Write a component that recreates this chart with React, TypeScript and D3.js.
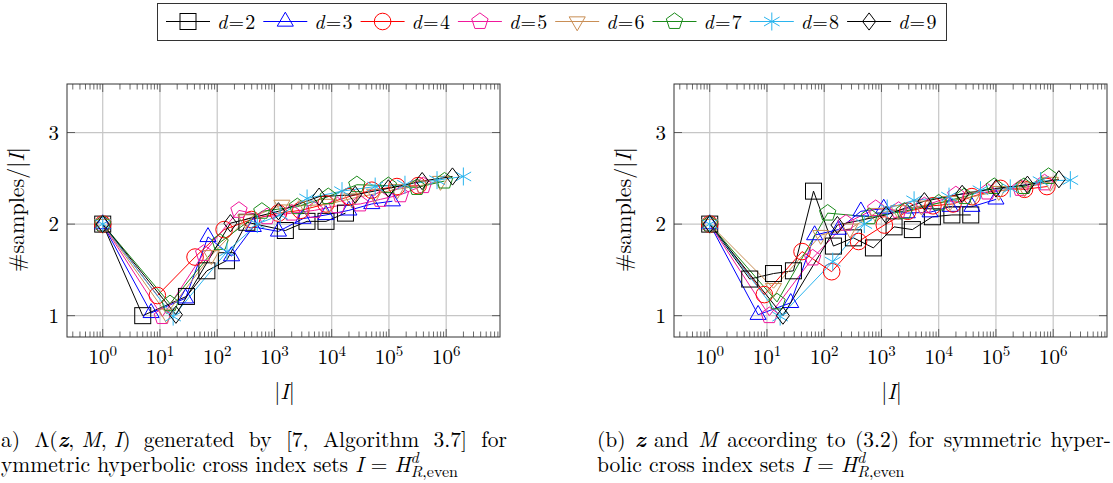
import React from "react";
import * as d3 from "d3";

// ---------- data ----------
const dims = [2, 3, 4, 5, 6, 7, 8, 9];
const xTickExps = [0, 1, 2, 3, 4, 5, 6];
const yTicks = [1, 2, 3];

// Panel (a)
const a2I = [1, 5, 29, 66, 145, 330, 1550, 3700, 7950, 17400];
const a2Y = [2.0, 1.0, 1.21, 1.49, 1.6, 2.02, 1.93, 2.03, 2.03, 2.12];
const a3I = [1, 7, 28, 69, 178, 427, 1175, 3160, 7940, 19950, 50100, 114800];
const a3Y = [2.0, 1.03, 1.19, 1.86, 1.65, 1.97, 1.92, 2.06, 2.1, 2.15, 2.22, 2.25];
const a4I = [1, 9, 41, 132, 398, 1175, 2880, 7940, 19950, 50100, 138000, 323600];
const a4Y = [2.0, 1.22, 1.64, 1.94, 2.05, 2.12, 2.15, 2.22, 2.3, 2.37, 2.41, 2.42];
const a5I = [1, 11, 58, 240, 741, 1995, 5010, 12600, 31600, 70800, 158500, 398100];
const a5Y = [2.0, 0.99, 1.68, 2.15, 2.08, 2.12, 2.15, 2.2, 2.22, 2.27, 2.32, 2.42];
const a6I = [1, 13, 79, 316, 1350, 3550, 8910, 22400, 56200, 141300, 354800, 794300];
const a6Y = [2.0, 1.02, 1.66, 2.05, 2.21, 2.2, 2.22, 2.28, 2.33, 2.38, 2.42, 2.47];
const a7I = [1, 15, 112, 603, 2510, 8710, 27500, 97700, 309000, 933300];
const a7Y = [2.0, 1.13, 1.8, 2.14, 2.19, 2.3, 2.43, 2.42, 2.4, 2.47];
const a8I = [1, 17, 148, 501, 1260, 3715, 15140, 57500, 190500, 691800, 1995000];
const a8Y = [2.0, 0.99, 1.7, 2.0, 2.1, 2.28, 2.36, 2.41, 2.43, 2.48, 2.52];
const a9I = [1, 19, 170, 1175, 6030, 25700, 97700, 380200, 1288000];
const a9Y = [2.0, 1.01, 2.01, 2.14, 2.3, 2.32, 2.39, 2.47, 2.52];

// Panel (b)
const b2I = [1, 5, 13, 29, 65, 145, 324, 724, 1660, 3470, 7760, 16980, 36300];
const b2Y = [2.0, 1.4, 1.46, 1.49, 2.36, 1.76, 1.85, 1.74, 1.97, 1.94, 2.08, 2.1, 2.1];
const b3I = [1, 7, 26, 68, 178, 437, 1096, 2820, 7080, 15850, 38000, 100000];
const b3Y = [2.0, 1.01, 1.14, 1.88, 1.94, 2.14, 2.17, 2.12, 2.13, 2.19, 2.19, 2.27];
const b4I = [1, 9, 41, 135, 398, 1122, 2884, 7940, 17780, 38000, 120200, 316200, 776200];
const b4Y = [2.0, 1.23, 1.7, 1.48, 1.81, 1.99, 2.14, 2.2, 2.22, 2.3, 2.39, 2.38, 2.41];
const b5I = [1, 11, 63, 240, 794, 1995, 5620, 19950, 70800, 269200, 707900];
const b5Y = [2.0, 1.0, 1.63, 2.01, 2.17, 2.15, 2.2, 2.32, 2.35, 2.39, 2.45];
const b6I = [1, 13, 87, 282, 794, 1995, 5010, 15850, 39800, 112200, 316200, 891300];
const b6Y = [2.0, 1.3, 1.88, 1.95, 2.12, 2.15, 2.2, 2.25, 2.3, 2.36, 2.4, 2.46];
const b7I = [1, 15, 115, 617, 2510, 10000, 28200, 93300, 309000, 831800];
const b7Y = [2.0, 1.15, 2.12, 2.08, 2.14, 2.23, 2.3, 2.41, 2.41, 2.52];
const b8I = [1, 17, 141, 501, 1260, 3715, 15140, 53700, 177800, 602600, 1995000];
const b8Y = [2.0, 0.99, 1.59, 2.0, 2.17, 2.26, 2.3, 2.37, 2.39, 2.47, 2.48];
const b9I = [1, 19, 170, 1202, 5620, 25700, 100000, 354800, 1259000];
const b9Y = [2.0, 1.0, 1.99, 2.1, 2.25, 2.33, 2.39, 2.43, 2.49];

const panelA = [
  [a2I, a2Y], [a3I, a3Y], [a4I, a4Y], [a5I, a5Y],
  [a6I, a6Y], [a7I, a7Y], [a8I, a8Y], [a9I, a9Y],
];
const panelB = [
  [b2I, b2Y], [b3I, b3Y], [b4I, b4Y], [b5I, b5Y],
  [b6I, b6Y], [b7I, b7Y], [b8I, b8Y], [b9I, b9Y],
];

// ---------- styles ----------
const colors = ["#000000", "#0000ff", "#ff0000", "#f0179b", "#c98e55", "#1a8a1a", "#2ab4ee", "#000000"];
const markers = ["square", "triangle", "circle", "pentagon", "triangleDown", "pentagon", "asterisk", "diamond"];
const FONT = "Latin Modern Roman, Liberation Serif, serif";
const fontStyle = { fontFamily: FONT };
const CAP = 21.5;

const xDomain = [Math.pow(10, -0.624), Math.pow(10, 6.94)];
const yDomain = [0.767, 3.53];
const TOP = 84;
const BOTTOM = 337;

let measureCtx: CanvasRenderingContext2D | null = null;
function measure(s: string, size: number): number {
  if (!measureCtx) {
    const c = document.createElement("canvas");
    measureCtx = c.getContext("2d");
  }
  if (!measureCtx) return s.length * size * 0.5;
  measureCtx.font = `${size}px "Latin Modern Roman", "Liberation Serif", serif`;
  return measureCtx.measureText(s).width;
}

function Marker({ type, x, y, color }: { type: string; x: number; y: number; color: string }) {
  const sw = 1;
  const common = { fill: "none", stroke: color, strokeWidth: sw };
  if (type === "square") {
    const s = 8;
    return <rect x={x - s} y={y - s} width={2 * s} height={2 * s} {...common} />;
  }
  if (type === "circle") return <circle cx={x} cy={y} r={8.3} {...common} />;
  if (type === "triangle" || type === "triangleDown") {
    const r = 9.3;
    const sgn = type === "triangle" ? 1 : -1;
    const pts = [
      [x, y - sgn * r],
      [x + r * 0.866, y + sgn * r / 2],
      [x - r * 0.866, y + sgn * r / 2],
    ];
    return <polygon points={pts.map((p) => p.join(",")).join(" ")} {...common} />;
  }
  if (type === "pentagon") {
    const r = 8.6;
    const pts = d3.range(5).map((k) => {
      const a = (-90 + 72 * k) * (Math.PI / 180);
      return [x + r * Math.cos(a), y + r * Math.sin(a)];
    });
    return <polygon points={pts.map((p) => p.join(",")).join(" ")} {...common} />;
  }
  if (type === "diamond") {
    const h = 8.6, w = 6.5;
    const pts = [[x, y - h], [x + w, y], [x, y + h], [x - w, y]];
    return <polygon points={pts.map((p) => p.join(",")).join(" ")} {...common} />;
  }
  if (type === "asterisk") {
    const r = 9;
    const angs = [90, 210, 330];
    return (
      <g stroke={color} strokeWidth={sw}>
        {angs.map((a, i) => {
          const t = (a * Math.PI) / 180;
          return (
            <line key={i} x1={x - r * Math.cos(t)} y1={y - r * Math.sin(t)} x2={x + r * Math.cos(t)} y2={y + r * Math.sin(t)} />
          );
        })}
      </g>
    );
  }
  return null;
}

function Panel({ left, right, data, labelX }: { left: number; right: number; data: number[][][]; labelX: number }) {
  const x = d3.scaleLog().domain(xDomain).range([left, right]);
  const y = d3.scaleLinear().domain(yDomain).range([BOTTOM, TOP]);
  const minor: number[] = [];
  for (let k = -1; k <= 6; k++) {
    for (let m = 2; m <= 9; m++) {
      const v = m * Math.pow(10, k);
      if (v > xDomain[0] && v < xDomain[1]) minor.push(v);
    }
  }
  const majors = xTickExps.map((e) => Math.pow(10, e));
  const line = d3
    .line<[number, number]>()
    .x((d) => x(d[0]))
    .y((d) => y(d[1]));
  const gridColor = "#c6c6c6";
  const tickColor = "#444";
  const MAJ = 8;
  const MIN = 5.5;
  return (
    <g>
      {majors.map((v, i) => (
        <line key={"gx" + i} x1={x(v)} x2={x(v)} y1={TOP} y2={BOTTOM} stroke={gridColor} strokeWidth={1.2} />
      ))}
      {yTicks.map((v, i) => (
        <line key={"gy" + i} x1={left} x2={right} y1={y(v)} y2={y(v)} stroke={gridColor} strokeWidth={1.2} />
      ))}
      {minor.map((v, i) => (
        <g key={"mn" + i} stroke={tickColor} strokeWidth={0.8}>
          <line x1={x(v)} x2={x(v)} y1={BOTTOM} y2={BOTTOM - MIN} />
          <line x1={x(v)} x2={x(v)} y1={TOP} y2={TOP + MIN} />
        </g>
      ))}
      {majors.map((v, i) => (
        <g key={"mj" + i} stroke={tickColor} strokeWidth={0.8}>
          <line x1={x(v)} x2={x(v)} y1={BOTTOM} y2={BOTTOM - MAJ} />
          <line x1={x(v)} x2={x(v)} y1={TOP} y2={TOP + MAJ} />
        </g>
      ))}
      {yTicks.map((v, i) => (
        <g key={"yt" + i} stroke={tickColor} strokeWidth={0.8}>
          <line x1={left} x2={left + MAJ} y1={y(v)} y2={y(v)} />
          <line x1={right} x2={right - MAJ} y1={y(v)} y2={y(v)} />
        </g>
      ))}
      {data.map((s, si) => {
        const pts = s[0].map((v, j) => [v, s[1][j]] as [number, number]);
        return <path key={"l" + si} d={line(pts) || ""} fill="none" stroke={colors[si]} strokeWidth={1} />;
      })}
      {data.map((s, si) =>
        s[0].map((v, j) => (
          <Marker key={"m" + si + "_" + j} type={markers[si]} x={x(v)} y={y(s[1][j])} color={colors[si]} />
        ))
      )}
      <rect x={left} y={TOP} width={right - left} height={BOTTOM - TOP} fill="none" stroke="#333" strokeWidth={1} />
      {xTickExps.map((e, i) => (
        <text key={"xl" + i} x={x(Math.pow(10, e))} y={364} textAnchor="middle" style={fontStyle} fontSize={21} fill="#000">
          10<tspan dy={-8} fontSize={15}>{e}</tspan>
        </text>
      ))}
      {yTicks.map((v, i) => (
        <text key={"yl" + i} x={left - 8} y={y(v) + 7} textAnchor="end" style={fontStyle} fontSize={21} fill="#000">
          {v}
        </text>
      ))}
      <text x={(left + right) / 2 + 1} y={399} textAnchor="middle" style={fontStyle} fontSize={22} fill="#000">
        |<tspan fontStyle="italic">I</tspan>|
      </text>
      <text
        transform={`translate(${labelX},${(TOP + BOTTOM) / 2 - 1}) rotate(-90)`}
        textAnchor="middle"
        style={fontStyle}
        fontSize={22}
        fill="#000"
      >
        #samples/|<tspan fontStyle="italic">I</tspan>|
      </text>
    </g>
  );
}

function Legend() {
  const x0 = 166;
  const step = 97.3;
  const cy = 21.5;
  return (
    <g>
      <rect x={157.5} y={3.5} width={789} height={37} fill="#fff" stroke="#333" strokeWidth={1} />
      {dims.map((d, i) => {
        const lx = x0 + i * step;
        return (
          <g key={"lg" + i}>
            <line x1={lx} x2={lx + 44} y1={cy} y2={cy} stroke={colors[i]} strokeWidth={1} />
            <Marker type={markers[i]} x={lx + 22} y={cy} color={colors[i]} />
            <text x={lx + 51} y={cy + 7} style={fontStyle} fontSize={20} fill="#000">
              <tspan fontStyle="italic">d</tspan>{"\u200A=\u200A"}{d}
            </text>
          </g>
        );
      })}
    </g>
  );
}

type W = { plain: string; node: React.ReactNode };

function CaptionLine({ words, x0, x1, y }: { words: W[]; x0: number; x1: number | null; y: number }) {
  const widths = words.map((w) => measure(w.plain, CAP));
  const total = widths.reduce((a, b) => a + b, 0);
  const gap = x1 === null ? CAP * 0.333 : (x1 - x0 - total) / (words.length - 1);
  let cx = x0;
  return (
    <g>
      {words.map((w, i) => {
        const px = cx;
        cx += widths[i] + gap;
        return (
          <text key={i} x={px} y={y} style={fontStyle} fontSize={CAP} fill="#000">
            {w.node}
          </text>
        );
      })}
    </g>
  );
}

const it = (s: string) => <tspan fontStyle="italic">{s}</tspan>;
const bz = <tspan fontWeight="bold" fontStyle="italic">z</tspan>;
const HSym: W = {
  plain: "I = H",
  node: (
    <>
      {it("I")}
      {" = "}
      {it("H")}
      <tspan dy={-9} fontSize={16} fontStyle="italic">d</tspan>
      <tspan dy={14} dx={-8} fontSize={16}>
        <tspan fontStyle="italic">R</tspan>,even
      </tspan>
    </>
  ),
};
const pw = (s: string): W => ({ plain: s, node: s });

const capA1: W[] = [
  pw("a)"),
  { plain: "Λ(z, M, I)", node: <>Λ({bz}, {it("M")}, {it("I")})</> },
  pw("generated"), pw("by"), pw("[7,"), pw("Algorithm"), pw("3.7]"), pw("for"),
];
const capA2: W[] = [pw("ymmetric"), pw("hyperbolic"), pw("cross"), pw("index"), pw("sets"), HSym];
const capB1: W[] = [
  pw("(b)"), { plain: "z", node: bz }, pw("and"), { plain: "M", node: it("M") },
  pw("according"), pw("to"), pw("(3.2)"), pw("for"), pw("symmetric"), pw("hyper-"),
];
const capB2: W[] = [pw("bolic"), pw("cross"), pw("index"), pw("sets"), HSym];

export default function App() {
  const L1 = 447;
  const L2 = 472;
  return (
    <svg width={1113} height={483} style={{ position: "absolute", left: 0, top: 0, background: "#fff" }}>
      <rect x={0} y={0} width={1113} height={483} fill="#fff" />
      <Legend />
      <Panel left={67} right={500} data={panelA} labelX={24} />
      <Panel left={674} right={1107} data={panelB} labelX={631} />
      <CaptionLine words={capA1} x0={1} x1={507} y={L1} />
      <CaptionLine words={capA2} x0={1} x1={null} y={L2} />
      <CaptionLine words={capB1} x0={597} x1={1111} y={L1} />
      <CaptionLine words={capB2} x0={597} x1={null} y={L2} />
    </svg>
  );
}
